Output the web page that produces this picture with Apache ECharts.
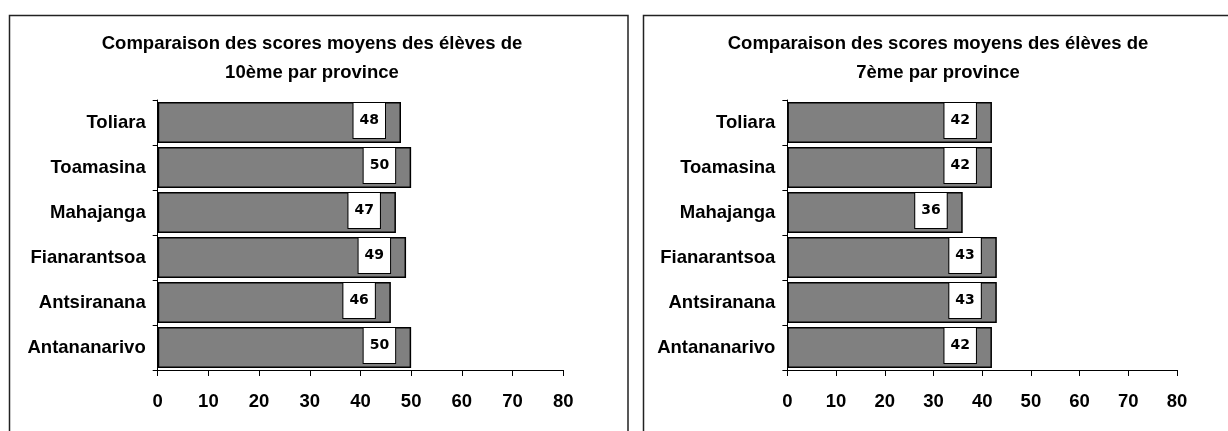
<!DOCTYPE html>
<html>
<head>
<meta charset="utf-8">
<script src="https://cdn.jsdelivr.net/npm/echarts@6/dist/echarts.min.js"></script>
<style>
html,body{margin:0;padding:0;background:#fff;}
#c{width:1228px;height:431px;}
</style>
</head>
<body>
<div id="c"></div>
<script>
// Categories (bottom to top, as in the original chart)
const provinces = ['Antananarivo', 'Antsiranana', 'Fianarantsoa', 'Mahajanga', 'Toamasina', 'Toliara'];
// Mean scores, 10ème
const scores10 = [50, 46, 49, 47, 50, 48];
// Mean scores, 7ème
const scores7 = [42, 43, 43, 36, 42, 42];
// Titles
const title10 = 'Comparaison des scores moyens des élèves de\n10ème par province';
const title7 = 'Comparaison des scores moyens des élèves de\n7ème par province';
// Value axis
const axisMin = 0, axisMax = 80, axisStep = 10;

// detect narrow font
function hasFont(name) {
  const c = document.createElement('canvas').getContext('2d');
  c.font = 'bold 40px monospace';
  const w0 = c.measureText('Antananarivo 0123').width;
  c.font = 'bold 40px "' + name + '", monospace';
  const w1 = c.measureText('Antananarivo 0123').width;
  return Math.abs(w0 - w1) > 0.5;
}
const narrow = hasFont('Liberation Sans Narrow');
const FONT = narrow ? '"Liberation Sans Narrow", sans-serif' : '"Liberation Sans", Arial, sans-serif';
const FS = narrow ? 22.5 : 18.5;
const TFS = narrow ? 22 : 18.5;

const chart = echarts.init(document.getElementById('c'), null, {renderer: 'canvas'});

function valueAxis(idx) {
  return {
    type: 'value', gridIndex: idx, min: axisMin, max: axisMax, interval: axisStep,
    splitLine: {show: false},
    axisLine: {show: true, lineStyle: {color: '#000', width: 1}},
    axisTick: {show: true, length: 6, lineStyle: {color: '#000'}},
    axisLabel: {color: '#000', fontFamily: FONT, fontWeight: 'bold', fontSize: FS, margin: 22}
  };
}
function catAxis(idx) {
  return {
    type: 'category', gridIndex: idx, data: provinces,
    axisLine: {show: true, lineStyle: {color: '#000', width: 1}},
    axisTick: {show: true, length: 5, lineStyle: {color: '#000'}},
    axisLabel: {color: '#000', fontFamily: FONT, fontWeight: 'bold', fontSize: FS, margin: 12}
  };
}
function barSeries(idx, data) {
  return {
    type: 'bar', xAxisIndex: idx, yAxisIndex: idx, data: data,
    barCategoryGap: '9%',
    itemStyle: {color: '#808080', borderColor: '#000', borderWidth: 1.5},
    label: {
      show: true, position: 'insideRight', distance: 16, offset: [0, -2],
      color: '#000', fontFamily: '"DejaVu Sans", Verdana, sans-serif', fontWeight: 'bold', fontSize: 14,
      backgroundColor: '#fff', borderColor: '#000', borderWidth: 1,
      padding: [10, 6, 10, 6], lineHeight: 15
    },
    silent: true
  };
}

chart.setOption({
  animation: false,
  backgroundColor: '#fff',
  title: [
    {text: title10, left: 312, top: 29, textAlign: 'center', padding: 0,
     textStyle: {fontFamily: FONT, fontWeight: 'bold', fontSize: TFS, lineHeight: 29, color: '#000'}},
    {text: title7, left: 938, top: 29, textAlign: 'center', padding: 0,
     textStyle: {fontFamily: FONT, fontWeight: 'bold', fontSize: TFS, lineHeight: 29, color: '#000'}}
  ],
  grid: [
    {left: 157.7, top: 100, width: 405.5, height: 270, containLabel: false},
    {left: 787.4, top: 100, width: 389.6, height: 270, containLabel: false}
  ],
  xAxis: [valueAxis(0), valueAxis(1)],
  yAxis: [catAxis(0), catAxis(1)],
  series: [barSeries(0, scores10), barSeries(1, scores7)],
  graphic: [
    {type: 'rect', shape: {x: 9.5, y: 15.5, width: 618.5, height: 440}, style: {fill: 'none', stroke: '#222', lineWidth: 1.5}, silent: true},
    {type: 'rect', shape: {x: 643.5, y: 15.5, width: 620, height: 440}, style: {fill: 'none', stroke: '#222', lineWidth: 1.5}, silent: true}
  ]
});
</script>
</body>
</html>
